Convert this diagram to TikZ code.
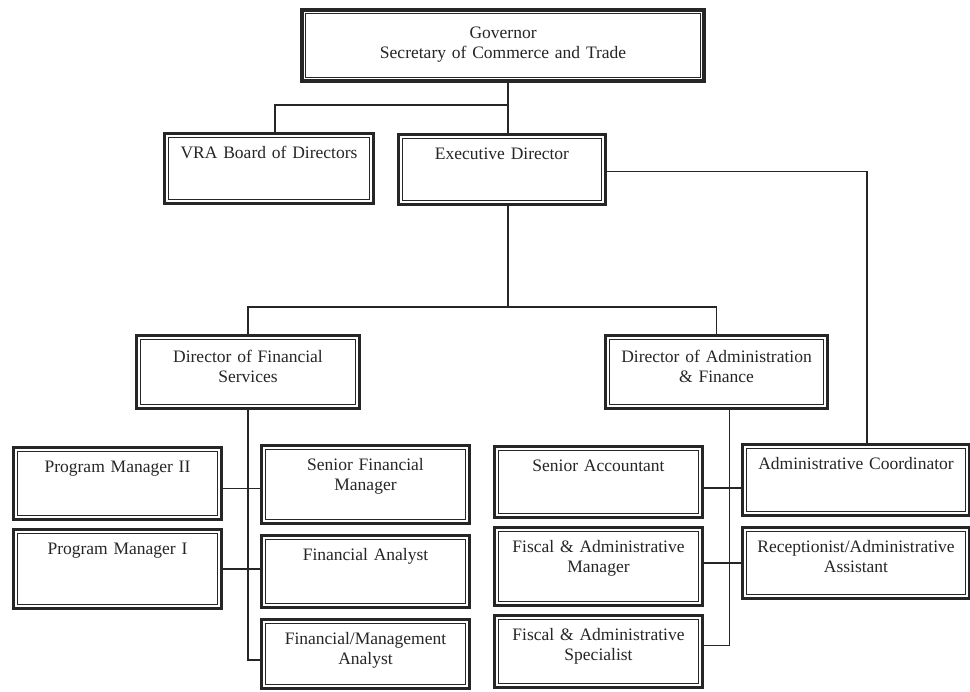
\documentclass[tikz,border=0pt]{standalone}
\usepackage{fontspec}
\setmainfont{Liberation Serif}
\usepackage{tikz}

\tikzset{
  box/.style={draw=black!85, line width=3pt, fill=white, anchor=north west,
    align=center, inner xsep=0pt, inner ysep=0pt, text height=25pt,
    font=\fontsize{17.5}{20.5}\selectfont, text=black!85,
    path picture={\draw[black!85, line width=1pt]
      ([shift={(3.8pt,3.8pt)}]path picture bounding box.south west) rectangle
      ([shift={(-3.8pt,-3.8pt)}]path picture bounding box.north east);}},
  topbox/.style={box, line width=4.2pt, text height=28pt},
  cell/.style 2 args={text width=#1pt, text depth=#2pt},
  link/.style={draw=black!85, line width=1.7pt}
}

\begin{document}
\begin{tikzpicture}[x=1pt, y=-1pt]
  \useasboundingbox (0,0) rectangle (970,692);

  % top of the chart
  \node[topbox, cell={402}{43}] (gov) at (300,8) {Governor\\Secretary of Commerce and Trade};
  \node[box, cell={209}{45}] (vra) at (163,132) {VRA Board of Directors};
  \node[box, cell={207}{45}] (exec) at (397,133) {Executive Director};

  % directors
  \node[box, cell={223}{46}, text height=27pt] (dfs) at (135,334) {Director of Financial\\Services};
  \node[box, cell={222}{46}, text height=27pt] (daf) at (604,334) {Director of Administration\\\& Finance};

  % financial services staff
  \node[box, cell={208}{47}] (pm2) at (12,446) {Program Manager II};
  \node[box, cell={208}{54}] (pm1) at (12,528) {Program Manager I};
  \node[box, cell={208}{53}] (sfm) at (260,444) {Senior Financial\\Manager};
  \node[box, cell={208}{47}] (fa) at (260,534) {Financial Analyst};
  \node[box, cell={208}{44}] (fma) at (260,618) {Financial/Management\\Analyst};

  % administration staff
  \node[box, cell={208}{46}] (sa) at (493,445) {Senior Accountant};
  \node[box, cell={208}{53}] (fam) at (493,526) {Fiscal \& Administrative\\Manager};
  \node[box, cell={208}{47}] (fas) at (493,614) {Fiscal \& Administrative\\Specialist};
  \node[box, cell={227}{46}] (ac) at (741,443) {Administrative Coordinator};
  \node[box, cell={227}{46}] (ra) at (741,526) {Receptionist/Administrative\\Assistant};

  \coordinate (trunk) at (508,105);
  \coordinate (split) at (508,307);

  \draw[link] (gov.south -| trunk) -- (exec.north -| trunk);
  \draw[link] (trunk) -| ([xshift=6pt]vra.north);
  \draw[link] (exec.south -| split) -- (split);
  \draw[link] (dfs.north) |- (split) -| (daf.north);
  \draw[link] ([yshift=-2pt]exec.east) -| ([xshift=11pt]ac.north);

  \draw[link] (dfs.south) |- ([yshift=-6pt]fma.west);
  \draw[link] ([yshift=-5pt]pm2.east) -- ([yshift=-5pt]pm2.east -| sfm.west);
  \draw[link] (pm1.east) -- (pm1.east -| fa.west);

  \draw[link] ([xshift=13pt]daf.south) |- ([yshift=6pt]fas.east);
  \draw[link] ([yshift=-6pt]sa.east) -- ([yshift=-6pt]sa.east -| ac.west);
  \draw[link] (ra.west) -- (ra.west -| fam.east);
\end{tikzpicture}
\end{document}
